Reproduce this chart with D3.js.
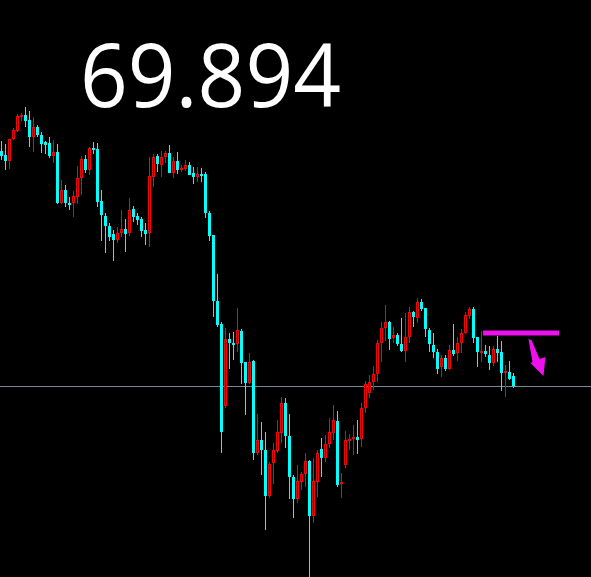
<!DOCTYPE html>
<html><head><meta charset="utf-8">
<script src="https://cdn.jsdelivr.net/npm/d3@7"></script>
<style>html,body{margin:0;padding:0;background:#000;}svg{display:block;}</style>
</head><body>
<script>
const title = "69.894";
const currentPrice = 69.894;
const open  = [72.24,72.20,72.14,72.36,72.44,72.58,72.60,72.55,72.38,72.48,72.40,72.33,72.32,72.19,72.23,71.72,71.85,71.72,71.72,71.78,71.97,72.16,72.05,72.27,72.26,71.74,71.59,71.49,71.41,71.35,71.42,71.46,71.42,71.66,71.59,71.56,71.45,71.42,71.98,72.19,72.10,72.18,72.22,72.02,72.14,72.05,72.06,72.10,72.02,71.98,72.01,72.01,71.62,71.40,70.74,70.51,69.69,70.36,70.32,70.31,70.44,70.13,69.92,70.14,69.22,69.35,69.25,68.79,69.12,69.24,69.42,69.72,69.39,68.98,68.76,68.93,69.01,69.14,68.59,68.93,69.26,69.17,69.31,69.42,69.54,68.91,69.10,69.34,69.36,69.38,69.36,69.67,69.82,69.93,70.01,70.32,70.47,70.53,70.37,70.40,70.31,70.24,70.38,70.63,70.57,70.73,70.67,70.45,70.30,70.23,70.08,70.17,70.06,70.25,70.22,70.32,70.42,70.59,70.66,70.38,70.22,70.24,70.20,70.12,70.26,70.23,70.02,70.03,69.99];
const high  = [72.34,72.31,72.36,72.47,72.61,72.62,72.68,72.64,72.58,72.50,72.43,72.34,72.38,72.35,72.31,71.95,71.90,71.78,71.84,72.09,72.19,72.20,72.28,72.33,72.32,71.85,71.62,71.52,71.45,71.48,71.65,71.56,71.77,71.69,71.62,71.58,71.52,72.18,72.21,72.21,72.24,72.24,72.30,72.18,72.23,72.10,72.15,72.13,72.08,72.08,72.07,72.03,71.64,71.40,71.01,70.53,70.47,70.42,70.43,70.67,70.46,70.13,70.22,70.15,69.61,69.53,69.43,69.13,69.32,69.55,69.78,69.77,69.61,69.00,69.10,69.03,69.22,69.15,69.17,69.25,69.37,69.40,69.57,69.70,69.64,69.02,69.44,69.41,69.50,69.55,69.72,69.94,70.00,70.09,70.35,70.53,70.70,70.54,70.48,70.42,70.57,70.62,70.68,70.64,70.77,70.76,70.67,70.47,70.42,70.26,70.20,70.20,70.30,70.51,70.38,70.46,70.63,70.68,70.68,70.38,70.44,70.30,70.29,70.29,70.39,70.34,70.10,70.14,70.02];
const low   = [72.15,72.05,72.06,72.35,72.43,72.54,72.48,72.28,72.23,72.38,72.22,72.21,72.17,72.12,71.71,71.71,71.68,71.65,71.58,71.71,71.80,72.02,72.00,72.21,71.68,71.34,71.22,71.34,71.14,71.32,71.38,71.23,71.39,71.53,71.50,71.38,71.30,71.28,71.88,72.03,71.98,72.12,72.02,71.97,72.01,72.03,72.04,72.00,71.91,71.93,71.93,71.57,71.34,70.58,70.48,69.22,69.67,70.06,70.15,70.23,69.91,69.60,69.91,69.15,69.20,69.00,68.45,68.77,68.91,69.22,69.32,69.27,68.76,68.57,68.72,68.85,68.88,67.95,68.52,68.78,68.98,69.13,69.27,69.35,68.88,68.77,69.07,69.25,69.20,69.21,69.28,69.62,69.77,69.85,69.93,70.13,70.34,70.25,70.32,70.29,70.23,70.13,70.32,70.48,70.52,70.64,70.38,70.23,70.17,70.01,69.98,70.04,70.05,70.19,70.14,70.22,70.41,70.56,70.32,70.08,70.13,70.18,70.05,70.09,70.13,69.84,69.78,69.95,69.87];
const close = [72.19,72.14,72.36,72.45,72.59,72.60,72.54,72.38,72.48,72.40,72.31,72.30,72.19,72.23,71.72,71.85,71.72,71.70,71.79,71.97,72.16,72.05,72.27,72.25,71.73,71.60,71.49,71.38,71.35,71.42,71.46,71.41,71.65,71.58,71.55,71.44,71.41,71.99,72.18,72.11,72.18,72.22,72.02,72.14,72.05,72.07,72.10,72.00,71.98,72.01,71.99,71.62,71.39,70.74,70.50,69.43,70.36,70.32,70.30,70.45,70.12,69.92,70.13,69.22,69.35,69.25,68.79,69.11,69.25,69.43,69.72,69.39,68.98,68.76,68.94,69.01,69.14,68.59,68.94,69.22,69.17,69.31,69.43,69.55,68.90,68.93,69.35,69.36,69.38,69.35,69.67,69.91,69.93,70.01,70.32,70.47,70.53,70.36,70.40,70.31,70.24,70.38,70.63,70.58,70.73,70.66,70.46,70.31,70.23,70.06,70.17,70.06,70.25,70.21,70.32,70.42,70.60,70.66,70.37,70.23,70.24,70.21,70.12,70.26,70.22,70.02,70.04,69.96,69.89];

const W = 591, H = 577;
const svg = d3.select("body").append("svg").attr("width", W).attr("height", H)
  .style("background", "#000");
svg.append("rect").attr("width", W).attr("height", H).attr("fill", "#000");

const x = d3.scaleLinear().domain([0, open.length - 1]).range([1.5, 513.5]);
const y = d3.scaleLinear().domain([67.98, 73.75]).range([577, 0]);

// current price line
const py = Math.round(y(currentPrice)) + 0.5;
svg.append("line").attr("x1", 0).attr("x2", W).attr("y1", py).attr("y2", py)
  .attr("stroke", "#778899").attr("stroke-width", 1);

const data = open.map((o, i) => ({i, o, h: high[i], l: low[i], c: close[i]}));
const g = svg.append("g");

const c = g.selectAll("g.candle").data(data).join("g").attr("class", "candle");
c.append("rect") // wick
  .attr("x", d => Math.floor(x(d.i)))
  .attr("width", 1)
  .attr("y", d => Math.round(y(d.h)))
  .attr("height", d => Math.max(1, Math.round(y(d.l)) - Math.round(y(d.h))))
  .attr("fill", d => d.c > d.o ? "#ff0000" : "#00ffff");
c.append("rect") // body
  .attr("x", d => Math.floor(x(d.i)) - 1)
  .attr("width", 3)
  .attr("y", d => Math.round(y(Math.max(d.o, d.c))))
  .attr("height", d => Math.max(1, Math.round(y(Math.min(d.o, d.c))) - Math.round(y(Math.max(d.o, d.c)))))
  .attr("fill", d => d.c > d.o ? "#ff0000" : "#00ffff");
c.filter(d => d.c > d.o && (Math.round(y(d.o)) - Math.round(y(d.c))) > 2)
  .append("rect") // hollow interior of bull candles
  .attr("x", d => Math.floor(x(d.i)))
  .attr("width", 1)
  .attr("y", d => Math.round(y(d.c)) + 1)
  .attr("height", d => Math.round(y(d.o)) - Math.round(y(d.c)) - 2)
  .attr("fill", "#000");

// magenta level and arrow
const levelPrice = 70.42;
const ly = y(levelPrice);
svg.append("rect").attr("x", x(120.4)).attr("y", ly - 2.5)
  .attr("width", x(139.4) - x(120.4)).attr("height", 5).attr("fill", "#ee11ee");
const ax = x(132), ay = y(70.36);
svg.append("path")
  .attr("d", `M${ax-1},${ay} L${ax+2},${ay+1} L${ax+10},${ay+20} L${ax+16},${ay+18} L${ax+14},${ay+37} L${ax+1},${ay+24} L${ax+3},${ay+23} Z`)
  .attr("fill", "#ee11ee");

// title
svg.append("text").attr("x", 80).attr("y", 107)
  .attr("fill", "#fff")
  .attr("textLength", 261).attr("lengthAdjust", "spacingAndGlyphs")
  .style("font-family", "'Open Sans', sans-serif")
  .style("font-weight", 500)
  .style("font-size", "87px")
  .text(title);
</script>
</body></html>
